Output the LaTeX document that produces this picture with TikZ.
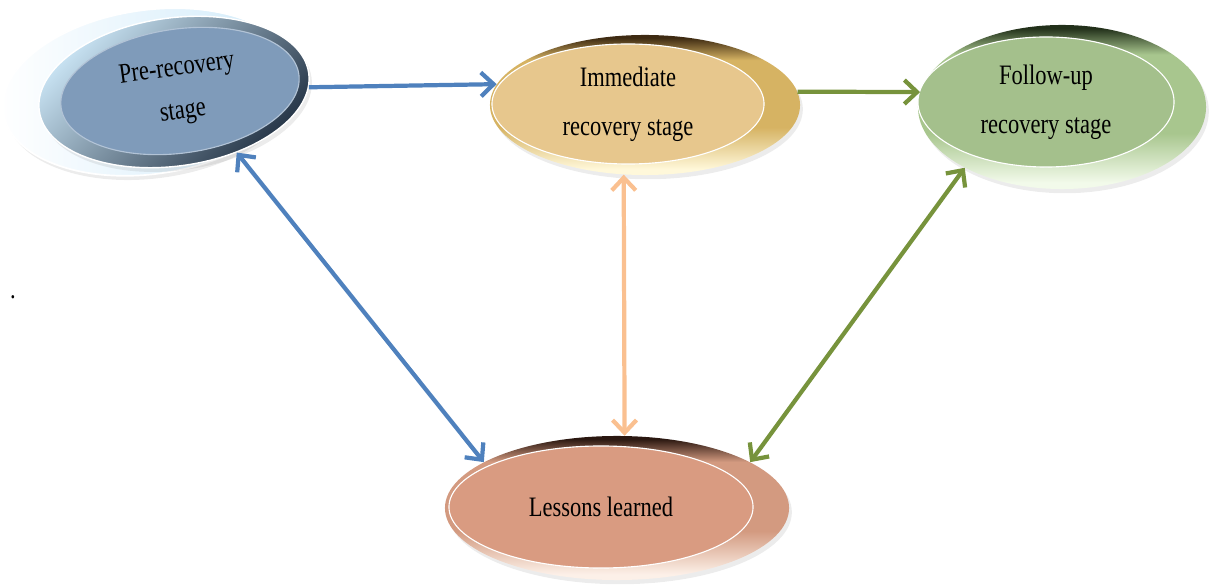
\documentclass[tikz,border=0pt]{standalone}
\usepackage{fontspec}
\setmainfont{Liberation Serif}[FakeStretch=0.8]
\usepackage{xcolor}
\usetikzlibrary{shapes.geometric, arrows.meta, shadows}
% fills and rims
\definecolor{prefill}{HTML}{7F9BBA}
\definecolor{prelight}{HTML}{CFEAFA}
\definecolor{predark}{HTML}{1F2E40}
\definecolor{immfill}{HTML}{E7C78D}
\definecolor{immdark}{HTML}{3E2A12}
\definecolor{immgold}{HTML}{D6B363}
\definecolor{immlight}{HTML}{FFF8DA}
\definecolor{folfill}{HTML}{A4C08C}
\definecolor{foldark}{HTML}{22301A}
\definecolor{folmid}{HTML}{A8C68E}
\definecolor{follight}{HTML}{F2FAEA}
\definecolor{lesfill}{HTML}{D99B81}
\definecolor{lesdark}{HTML}{2A1710}
\definecolor{lesmid}{HTML}{D39A80}
\definecolor{leslight}{HTML}{FCF0E8}
\definecolor{arrowblue}{HTML}{4F81BD}
\definecolor{arrowgreen}{HTML}{77933C}
\definecolor{arrowpeach}{HTML}{FAC090}
% bevel rims: dark only at the very top
\pgfdeclareverticalshading{immrim}{100bp}{color(0bp)=(immlight); color(27bp)=(immlight); color(42bp)=(immgold); color(66bp)=(immgold); color(74bp)=(immdark); color(100bp)=(immdark)}
\pgfdeclareverticalshading{folrim}{100bp}{color(0bp)=(follight); color(27bp)=(follight); color(42bp)=(folmid); color(66bp)=(folmid); color(74bp)=(foldark); color(100bp)=(foldark)}
\pgfdeclareverticalshading{lesrim}{100bp}{color(0bp)=(leslight); color(27bp)=(leslight); color(42bp)=(lesmid); color(66bp)=(lesmid); color(74bp)=(lesdark); color(100bp)=(lesdark)}
\tikzstyle{link} = [line width=3pt, >={Straight Barb[length=9pt,width=17pt]}]

\begin{document}
\begin{tikzpicture}[x=0.025cm, y=0.025cm,
    rim/.style={ellipse, inner sep=0pt, drop shadow={opacity=0.15, shadow xshift=2pt, shadow yshift=-3pt}},
    face/.style={ellipse, inner sep=0pt, draw=white, line width=0.8pt, align=center, font=\fontsize{20}{35}\selectfont},
]
    \useasboundingbox (0,0) rectangle (1211,586);

    % Pre-recovery stage
    \node[rim, rotate=8, minimum width=7.4cm, minimum height=4.1cm, draw=white, line width=1.2pt,
          left color=white, right color=prelight] (pre-back) at (150,494) {};
    \node[rim, rotate=8, minimum width=6.8cm, minimum height=3.7cm, draw=white, line width=1pt,
          top color=prelight, bottom color=predark, shading angle=45] (pre) at (174,494) {};
    \node[face, rotate=8, minimum width=6.0cm, minimum height=3.1cm, fill=prefill, draw=prefill!60!white,
          font=\fontsize{20}{31}\selectfont] (pre-in) at (180,495) {Pre-recovery\\stage};

    % Immediate recovery stage
    \node[rim, minimum width=7.75cm, minimum height=3.5cm, shading=immrim] (imm) at (645,481) {};
    \node[face, minimum width=6.8cm, minimum height=3.0cm, fill=immfill] (imm-in) at (628,482) {Immediate\\recovery stage};

    % Follow-up recovery stage
    \node[rim, minimum width=7.2cm, minimum height=4.1cm, shading=folrim] (fol) at (1062,479) {};
    \node[face, minimum width=6.4cm, minimum height=3.25cm, fill=folfill] (fol-in) at (1046,484) {Follow-up\\recovery stage};

    % Lessons learned
    \node[rim, minimum width=8.6cm, minimum height=3.6cm, shading=lesrim] (les) at (617,78) {};
    \node[face, minimum width=7.6cm, minimum height=3.05cm, fill=lesfill] (les-in) at (601,79) {Lessons learned};

    % stray full stop
    \node[font=\fontsize{20}{20}\selectfont] (dot) at (13,289) {.};

    % Connections
    \draw[link, ->, arrowblue] (pre.-6) -- (imm.172);
    \draw[link, ->, arrowgreen] (imm.5) -- (fol.174);
    \draw[link, <->, arrowblue] (pre.-52) -- (les.161);
    \draw[link, <->, arrowpeach] (imm.-107) -- (les.84);
    \draw[link, <->, arrowgreen] (fol.-148) -- (les.19);
\end{tikzpicture}
\end{document}
